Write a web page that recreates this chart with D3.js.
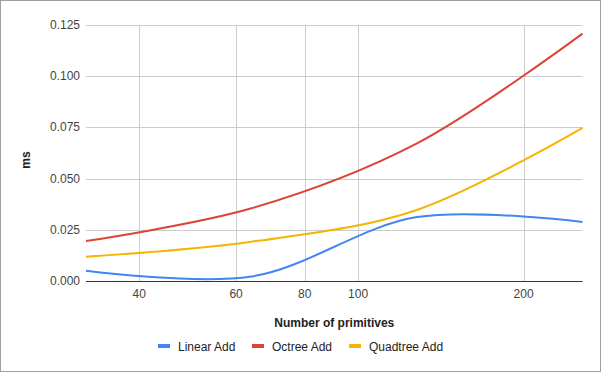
<!DOCTYPE html>
<html>
<head>
<meta charset="UTF-8">
<title>Add timing</title>
<script src="https://d3js.org/d3.v7.min.js"></script>
<style>
  body { margin: 0; background: #fff; }
  svg { display: block; font-family: "Liberation Sans", Arial, sans-serif; }
  .grid line { stroke: #ccc; stroke-width: 1px; }
  .series { fill: none; stroke-width: 2px; }
  .tick-label { font-size: 12px; fill: #444; }
  .axis-title { font-size: 12px; font-weight: bold; fill: #222; }
  .legend-label { font-size: 12px; fill: #222; }
</style>
</head>
<body>
<svg width="601" height="372"></svg>
<script>
// data
const primitives = [32, 64, 128, 256];
const linearAdd   = [0.0050, 0.0022, 0.0312, 0.0288];
const octreeAdd   = [0.0195, 0.0355, 0.0672, 0.1208];
const quadtreeAdd = [0.0119, 0.0192, 0.0347, 0.0748];

const seriesNames  = ["Linear Add", "Octree Add", "Quadtree Add"];
const seriesColors = ["#4285f4", "#db4437", "#f4b400"];
const xTicks = [40, 60, 80, 100, 200];
const yTicks = [0, 0.025, 0.05, 0.075, 0.1, 0.125];

const svg = d3.select("svg");
const W = 601, H = 372;

// outer frame
svg.append("rect")
    .attr("x", 0.5).attr("y", 0.5)
    .attr("width", W - 1).attr("height", H - 1)
    .attr("fill", "#fff").attr("stroke", "#9e9e9e");

const x = d3.scaleLog().domain([32, 256]).range([86, 582.5]);
const y = d3.scaleLinear().domain([0, 0.125]).range([281, 25]);

// gridlines
const grid = svg.append("g").attr("class", "grid");
grid.selectAll(".hg")
    .data(yTicks.slice(1))
    .enter().append("line")
    .attr("x1", x.range()[0]).attr("x2", x.range()[1])
    .attr("y1", d => Math.round(y(d)) + 0.5)
    .attr("y2", d => Math.round(y(d)) + 0.5);
grid.selectAll(".vg")
    .data(xTicks)
    .enter().append("line")
    .attr("x1", d => Math.round(x(d)) + 0.5)
    .attr("x2", d => Math.round(x(d)) + 0.5)
    .attr("y1", y(0.125)).attr("y2", y(0));

// tick labels
svg.selectAll(".ylab")
    .data(yTicks)
    .enter().append("text")
    .attr("class", "tick-label")
    .attr("x", 80)
    .attr("y", d => y(d) + 4)
    .attr("text-anchor", "end")
    .text(d => d3.format(".3f")(d));

svg.selectAll(".xlab")
    .data(xTicks)
    .enter().append("text")
    .attr("class", "tick-label")
    .attr("x", d => x(d))
    .attr("y", 298)
    .attr("text-anchor", "middle")
    .text(d => d);

// series
const allSeries = [linearAdd, octreeAdd, quadtreeAdd];
const line = d3.line()
    .x((d, i) => x(primitives[i]))
    .y(d => y(d))
    .curve(d3.curveCatmullRom.alpha(0.5));

svg.selectAll(".series")
    .data(allSeries)
    .enter().append("path")
    .attr("class", "series")
    .attr("stroke", (d, i) => seriesColors[i])
    .attr("d", line);

// baseline
svg.append("line")
    .attr("x1", x.range()[0]).attr("x2", x.range()[1])
    .attr("y1", Math.round(y(0)) + 0.5).attr("y2", Math.round(y(0)) + 0.5)
    .attr("stroke", "#333");

// axis titles
svg.append("text")
    .attr("class", "axis-title")
    .attr("x", (x.range()[0] + x.range()[1]) / 2)
    .attr("y", 327)
    .attr("text-anchor", "middle")
    .text("Number of primitives");

svg.append("text")
    .attr("class", "axis-title")
    .attr("transform", "translate(30,160) rotate(-90)")
    .attr("text-anchor", "middle")
    .text("ms");

// legend
const legendX = [158, 252, 349];
const legend = svg.selectAll(".legend")
    .data(seriesNames)
    .enter().append("g")
    .attr("transform", (d, i) => `translate(${legendX[i]},346)`);
legend.append("rect")
    .attr("x", 0).attr("y", -2)
    .attr("width", 12).attr("height", 4)
    .attr("fill", (d, i) => seriesColors[i]);
legend.append("text")
    .attr("class", "legend-label")
    .attr("x", 20)
    .attr("y", 4.5)
    .text(d => d);
</script>
</body>
</html>
